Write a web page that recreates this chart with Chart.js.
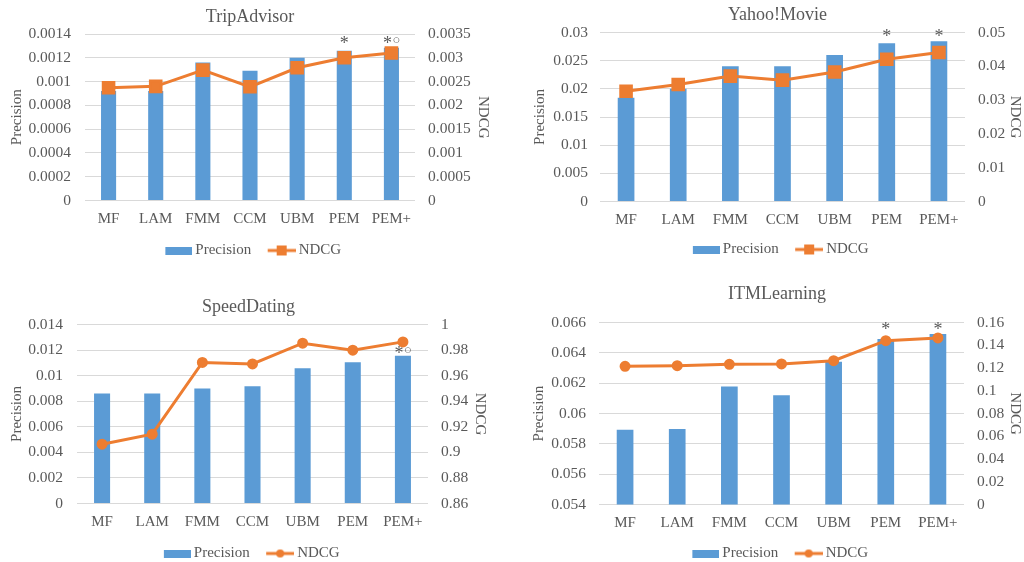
<!DOCTYPE html>
<html>
<head>
<meta charset="utf-8">
<script src="https://cdn.jsdelivr.net/npm/chart.js@4"></script>
<style>
  html, body { margin: 0; padding: 0; background: #fff; }
  body { width: 1024px; height: 562px; position: relative; overflow: hidden; }
  .box { position: absolute; }
</style>
</head>
<body>
<div class="box" style="left:0;top:0;width:505px;height:268px"><canvas id="c1"></canvas></div>
<div class="box" style="left:512px;top:0;width:512px;height:267px"><canvas id="c2"></canvas></div>
<div class="box" style="left:0;top:290px;width:505px;height:281px"><canvas id="c3"></canvas></div>
<div class="box" style="left:512px;top:277px;width:512px;height:294px"><canvas id="c4"></canvas></div>
<script>
const methods = ['MF', 'LAM', 'FMM', 'CCM', 'UBM', 'PEM', 'PEM+'];

// TripAdvisor
const tripPrecision = [0.00092, 0.00092, 0.00116, 0.00109, 0.0012, 0.00126, 0.001285];
const tripNdcg = [0.00237, 0.0024, 0.00274, 0.00239, 0.00279, 0.003, 0.0031];
const tripMarks = ['', '', '', '', '', '*', '*○'];

// Yahoo!Movie
const yahooPrecision = [0.0184, 0.02, 0.024, 0.024, 0.026, 0.0281, 0.02846];
const yahooNdcg = [0.0326, 0.0346, 0.0371, 0.0359, 0.0383, 0.0421, 0.0441];
const yahooMarks = ['', '', '', '', '', '*', '*'];

// SpeedDating
const speedPrecision = [0.0086, 0.00861, 0.009, 0.00918, 0.01058, 0.01105, 0.01155];
const speedNdcg = [0.9064, 0.9142, 0.9703, 0.9692, 0.9854, 0.9799, 0.9864];
const speedMarks = ['', '', '', '', '', '', '*○'];

// ITMLearning
const itmPrecision = [0.05893, 0.05898, 0.06179, 0.0612, 0.06342, 0.06492, 0.06525];
const itmNdcg = [0.1215, 0.1221, 0.1233, 0.1236, 0.1265, 0.1441, 0.1465];
const itmMarks = ['', '', '', '', '', '*', '*'];

const BLUE = '#5b9bd5';
const ORANGE = '#ed7d31';
const GREY = '#595959';
const FONT = "'Liberation Serif', 'Times New Roman', serif";
const LEGEND_PAD = 11;

// legend icons: transparent on the left so the text sits close to the icon
function barIcon() {
    const c = document.createElement('canvas');
    c.width = 38; c.height = 8;
    const ctx = c.getContext('2d');
    ctx.fillStyle = BLUE;
    ctx.fillRect(11, 0, 27, 8);
    return c;
}

function lineIcon(square) {
    const c = document.createElement('canvas');
    c.width = 38; c.height = 12;
    const ctx = c.getContext('2d');
    ctx.strokeStyle = ORANGE;
    ctx.lineWidth = 3;
    ctx.beginPath();
    ctx.moveTo(10, 6);
    ctx.lineTo(38, 6);
    ctx.stroke();
    ctx.fillStyle = ORANGE;
    if (square) {
        ctx.fillRect(19, 1, 10, 10);
    } else {
        ctx.beginPath();
        ctx.arc(24, 6, 4, 0, Math.PI * 2);
        ctx.fill();
    }
    return c;
}

// significance marks above the tallest marked bar
const marksPlugin = {
    id: 'marks',
    afterDatasetsDraw(chart, args, opts) {
        const marks = opts.marks;
        if (!marks) return;
        const ctx = chart.ctx;
        const meta = chart.getDatasetMeta(0);
        let top = Infinity;
        meta.data.forEach((bar, i) => { if (marks[i]) top = Math.min(top, bar.y); });
        const cy = top - opts.lift;
        ctx.save();
        ctx.fillStyle = GREY;
        ctx.textAlign = 'center';
        meta.data.forEach((bar, i) => {
            const m = marks[i];
            if (!m) return;
            const x = m.length > 1 ? bar.x - 4 : bar.x;
            ctx.font = '18px ' + FONT;
            ctx.textBaseline = 'alphabetic';
            ctx.fillText('*', x, cy + 9);
            if (m.length > 1) {
                ctx.font = '13px ' + FONT;
                ctx.textBaseline = 'middle';
                ctx.fillText(m.slice(1), bar.x + 5, cy + 1);
            }
        });
        ctx.restore();
    }
};

function fmt(v) {
    return String(parseFloat(v.toFixed(6)));
}

function makeChart(id, title, precision, ndcg, marks, left, right, square, g) {
    const pointStyle = square ? 'rect' : 'circle';
    const radius = square ? 7.5 : 4;
    const icons = [barIcon(), lineIcon(square)];

    new Chart(document.getElementById(id), {
        type: 'bar',
        data: {
            labels: methods,
            datasets: [
                {
                    label: 'Precision',
                    data: precision,
                    backgroundColor: BLUE,
                    categoryPercentage: 1,
                    barPercentage: 0.32,
                    yAxisID: 'y',
                    order: 1
                },
                {
                    type: 'line',
                    label: 'NDCG',
                    data: ndcg,
                    borderColor: ORANGE,
                    backgroundColor: ORANGE,
                    borderWidth: 3,
                    pointStyle: pointStyle,
                    pointRadius: radius,
                    pointHoverRadius: radius,
                    yAxisID: 'y1',
                    order: 0
                }
            ]
        },
        options: {
            responsive: true,
            maintainAspectRatio: false,
            animation: false,
            layout: { padding: { left: g.padL, right: g.padR, top: 0, bottom: 0 } },
            plugins: {
                title: {
                    display: true,
                    text: title,
                    color: GREY,
                    font: { family: FONT, size: 18, weight: 'normal' },
                    padding: { top: g.titleTop, bottom: g.titleBottom }
                },
                legend: {
                    position: 'bottom',
                    labels: {
                        color: GREY,
                        font: { family: FONT, size: 15 },
                        usePointStyle: true,
                        pointStyleWidth: 29,
                        padding: LEGEND_PAD,
                        generateLabels: () => ['Precision', 'NDCG'].map((t, i) => ({
                            text: t,
                            pointStyle: icons[i],
                            fillStyle: i ? ORANGE : BLUE,
                            strokeStyle: 'transparent',
                            lineWidth: 0,
                            fontColor: GREY,
                            datasetIndex: i
                        }))
                    }
                },
                tooltip: { enabled: false },
                marks: { marks: marks, lift: g.lift }
            },
            scales: {
                x: {
                    grid: { display: false, drawTicks: false },
                    border: { display: false },
                    ticks: { color: GREY, font: { family: FONT, size: 15 }, padding: 10 },
                    afterFit: s => { s.height = g.xHeight; }
                },
                y: {
                    position: 'left',
                    min: left[0],
                    max: left[1],
                    ticks: { stepSize: left[2], color: GREY, font: { family: FONT, size: 15.5 }, padding: g.tickPadL, callback: fmt },
                    grid: { color: '#d9d9d9', drawTicks: false },
                    border: { display: false },
                    title: { display: true, text: 'Precision', color: GREY, font: { family: FONT, size: 15 }, padding: 0 },
                    afterFit: s => { s.width = g.yWidth; }
                },
                y1: {
                    position: 'right',
                    min: right[0],
                    max: right[1],
                    ticks: { stepSize: right[2], color: GREY, font: { family: FONT, size: 15.5 }, padding: 13, callback: fmt },
                    grid: { drawOnChartArea: false, drawTicks: false },
                    border: { display: false },
                    title: { display: true, text: 'NDCG', color: GREY, font: { family: FONT, size: 15 }, padding: 0 },
                    afterFit: s => { s.width = g.y1Width; }
                }
            }
        },
        plugins: [marksPlugin]
    });
}

makeChart('c1', 'TripAdvisor', tripPrecision, tripNdcg, tripMarks, [0, 0.0014, 0.0002], [0, 0.0035, 0.0005], true,
    { padL: 8, padR: 13, titleTop: 6, titleBottom: 6.4, yWidth: 77, y1Width: 77, tickPadL: 14, xHeight: 31.5, lift: 8 });
makeChart('c2', 'Yahoo!Movie', yahooPrecision, yahooNdcg, yahooMarks, [0, 0.03, 0.005], [0, 0.05, 0.01], true,
    { padL: 19, padR: 0, titleTop: 4, titleBottom: 6.9, yWidth: 69, y1Width: 59, tickPadL: 12, xHeight: 29.5, lift: 8 });
makeChart('c3', 'SpeedDating', speedPrecision, speedNdcg, speedMarks, [0, 0.014, 0.002], [0.86, 1, 0.02], false,
    { padL: 8, padR: 16, titleTop: 6, titleBottom: 6.9, yWidth: 69, y1Width: 61, tickPadL: 14, xHeight: 31.5, lift: 6 });
makeChart('c4', 'ITMLearning', itmPrecision, itmNdcg, itmMarks, [0.054, 0.066, 0.002], [0, 0.16, 0.02], false,
    { padL: 18, padR: 0, titleTop: 6, titleBottom: 18, yWidth: 69, y1Width: 60, tickPadL: 13, xHeight: 30.5, lift: 8 });
</script>
</body>
</html>
